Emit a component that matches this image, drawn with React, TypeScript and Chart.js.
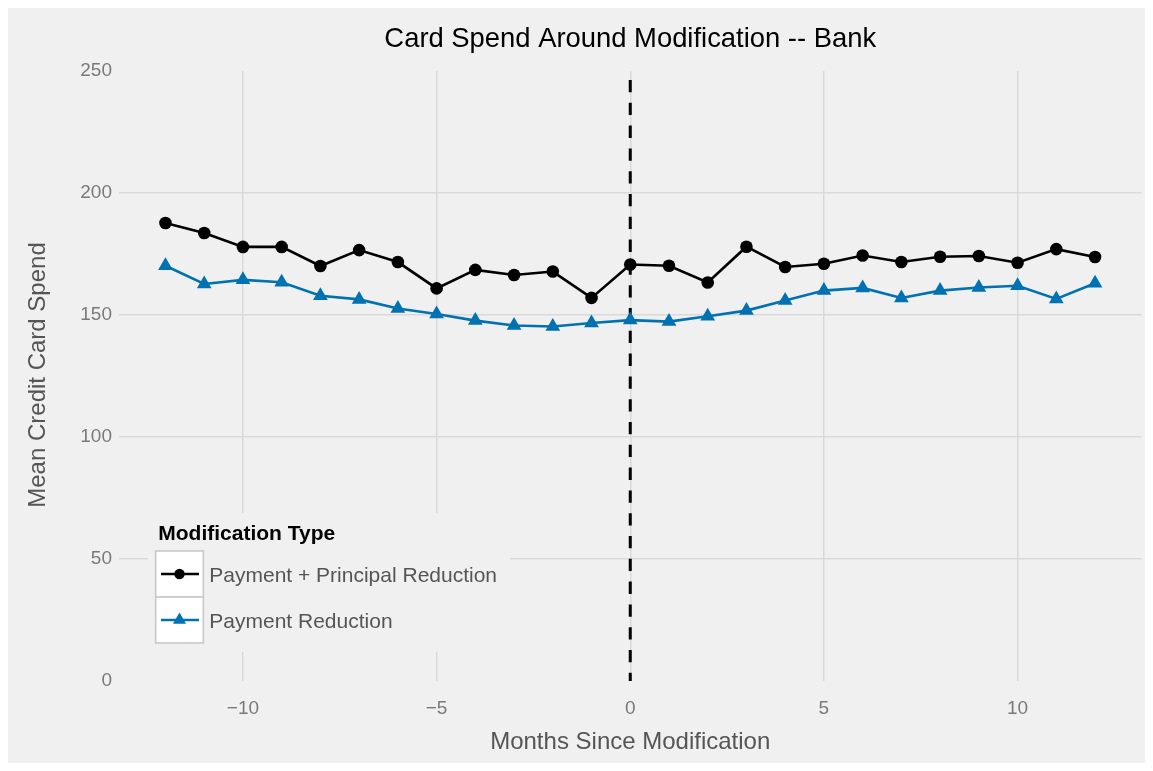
import React, { useEffect, useRef } from "react";
import { Chart, registerables } from "chart.js";

Chart.register(...registerables);

const months = [-12, -11, -10, -9, -8, -7, -6, -5, -4, -3, -2, -1, 0, 1, 2, 3, 4, 5, 6, 7, 8, 9, 10, 11, 12];
const paymentPrincipal = [187.7, 183.6, 177.9, 177.9, 170.1, 176.6, 171.7, 160.9, 168.5, 166.4, 167.8, 157.0, 170.7, 170.2, 163.3, 178.0, 169.7, 171.0, 174.4, 171.7, 173.9, 174.2, 171.4, 177.0, 173.8];
const paymentOnly = [170.2, 162.7, 164.4, 163.4, 157.9, 156.4, 152.7, 150.4, 147.7, 145.7, 145.3, 146.7, 147.9, 147.3, 149.5, 151.8, 155.9, 160.0, 161.1, 157.0, 160.0, 161.3, 162.0, 156.6, 163.0];
const xTicks = [-10, -5, 0, 5, 10];
const yTicks = [0, 50, 100, 150, 200, 250];
const seriesNames = ["Payment + Principal Reduction", "Payment Reduction"];
const seriesColors = ["#000000", "#0072B2"];
const chartTitle = "Card Spend Around Modification -- Bank";
const xTitle = "Months Since Modification";
const yTitle = "Mean Credit Card Spend";
const legendTitle = "Modification Type";

const FONT = '"Liberation Sans", Arial, Helvetica, sans-serif';
const fmt = (v: number) => (v < 0 ? "\u2212" + Math.abs(v) : String(v));

const overlay = {
  id: "overlay",
  beforeDatasetsDraw(chart: any) {
    const { ctx, chartArea, scales } = chart;
    const px = scales.x.getPixelForValue(0);
    ctx.save();
    ctx.strokeStyle = "#000";
    ctx.lineWidth = 3;
    ctx.setLineDash([12.3, 10.5]);
    ctx.lineDashOffset = 13.8;
    ctx.beginPath();
    ctx.moveTo(px, chartArea.top);
    ctx.lineTo(px, chartArea.bottom);
    ctx.stroke();
    ctx.restore();
  },
  afterDraw(chart: any) {
    const { ctx, chartArea } = chart;
    ctx.save();
    // title
    ctx.fillStyle = "#000";
    ctx.font = `27.4px ${FONT}`;
    ctx.textAlign = "center";
    ctx.textBaseline = "alphabetic";
    ctx.fillText(chartTitle, (chartArea.left + chartArea.right) / 2, 38.7);
    // x title
    ctx.fillStyle = "#555555";
    ctx.font = `24px ${FONT}`;
    ctx.fillText(xTitle, (chartArea.left + chartArea.right) / 2, 741);
    // y title
    ctx.save();
    ctx.translate(37, 367);
    ctx.rotate(-Math.PI / 2);
    ctx.fillText(yTitle, 0, 0);
    ctx.restore();

    // legend
    ctx.fillStyle = "#F0F0F0";
    ctx.fillRect(140, 505, 362, 139);
    ctx.textAlign = "left";
    ctx.fillStyle = "#000";
    ctx.font = `bold 21px ${FONT}`;
    ctx.fillText(legendTitle, 150.3, 531.5);
    const boxes = [543, 589];
    const baselines = [574.3, 620.3];
    boxes.forEach((by, i) => {
      ctx.fillStyle = "#FFFFFF";
      ctx.fillRect(147.7, by, 47.6, 46);
      ctx.strokeStyle = "#CBCBCB";
      ctx.lineWidth = 1.7;
      ctx.strokeRect(147.7, by, 47.6, 46);
      const cy = by + 23;
      ctx.strokeStyle = seriesColors[i];
      ctx.lineWidth = 2.6;
      ctx.beginPath();
      ctx.moveTo(153, cy);
      ctx.lineTo(191, cy);
      ctx.stroke();
      ctx.fillStyle = seriesColors[i];
      ctx.beginPath();
      if (i === 0) {
        ctx.arc(171.5, cy, 5.2, 0, Math.PI * 2);
      } else {
        const r = 7.5;
        for (let k = 0; k < 3; k++) {
          const a = (k * 2 * Math.PI) / 3;
          const xx = 171.5 + Math.sin(a) * r;
          const yy = cy - Math.cos(a) * r;
          if (k === 0) ctx.moveTo(xx, yy);
          else ctx.lineTo(xx, yy);
        }
        ctx.closePath();
      }
      ctx.fill();
      ctx.fillStyle = "#555555";
      ctx.font = `21px ${FONT}`;
      ctx.fillText(seriesNames[i], 201.3, baselines[i]);
    });
    ctx.restore();
  },
};

export default function App() {
  const ref = useRef<HTMLCanvasElement>(null);
  useEffect(() => {
    if (!ref.current) return;
    const gridColor = "#D9D9D9";
    const tickFont = { family: FONT, size: 19 };
    const chart = new Chart(ref.current, {
      type: "line",
      data: {
        datasets: [
          {
            label: seriesNames[0],
            data: months.map((m, i) => ({ x: m, y: paymentPrincipal[i] })),
            borderColor: seriesColors[0],
            backgroundColor: seriesColors[0],
            borderWidth: 2.6,
            pointStyle: "circle",
            pointRadius: 6.3,
            pointBorderWidth: 0,
            pointBackgroundColor: seriesColors[0],
            tension: 0,
          },
          {
            label: seriesNames[1],
            data: months.map((m, i) => ({ x: m, y: paymentOnly[i] })),
            borderColor: seriesColors[1],
            backgroundColor: seriesColors[1],
            borderWidth: 2.6,
            pointStyle: "triangle",
            pointRadius: 8.5,
            pointBorderWidth: 0,
            pointBackgroundColor: seriesColors[1],
            tension: 0,
          },
        ],
      },
      options: {
        responsive: false,
        animation: false,
        devicePixelRatio: 1,
        layout: { autoPadding: false, padding: { top: 63, right: 3.5, left: 0, bottom: 0 } },
        plugins: {
          legend: { display: false },
          title: { display: false },
          tooltip: { enabled: false },
        },
        scales: {
          x: {
            type: "linear",
            min: -13.2,
            max: 13.2,
            afterBuildTicks: (s: any) => {
              s.ticks = xTicks.map((v) => ({ value: v }));
            },
            afterFit: (s: any) => {
              s.height = 82;
              s.paddingLeft = 0;
              s.paddingRight = 0;
            },
            grid: { color: gridColor, lineWidth: 1.5, drawTicks: false },
            border: { display: false },
            ticks: {
              padding: 16,
              font: tickFont,
              color: "#7A7A7A",
              maxRotation: 0,
              callback: (v: any) => fmt(Number(v)),
            },
          },
          y: {
            type: "linear",
            min: 0,
            max: 250,
            afterBuildTicks: (s: any) => {
              s.ticks = yTicks.map((v) => ({ value: v }));
            },
            afterFit: (s: any) => {
              s.width = 111;
            },
            grid: {
              color: (c: any) =>
                c.tick && (c.tick.value === 0 || c.tick.value === 250) ? "rgba(0,0,0,0)" : gridColor,
              lineWidth: 1.5,
              drawTicks: false,
            },
            border: { display: false },
            ticks: {
              padding: 7,
              font: tickFont,
              color: "#7A7A7A",
              callback: (v: any) => fmt(Number(v)),
            },
          },
        },
      },
      plugins: [overlay],
    } as any);
    return () => chart.destroy();
  }, []);
  return (
    <div style={{ width: 1137, height: 755, background: "#F0F0F0" }}>
      <canvas ref={ref} width={1137} height={755} style={{ display: "block" }} />
    </div>
  );
}
